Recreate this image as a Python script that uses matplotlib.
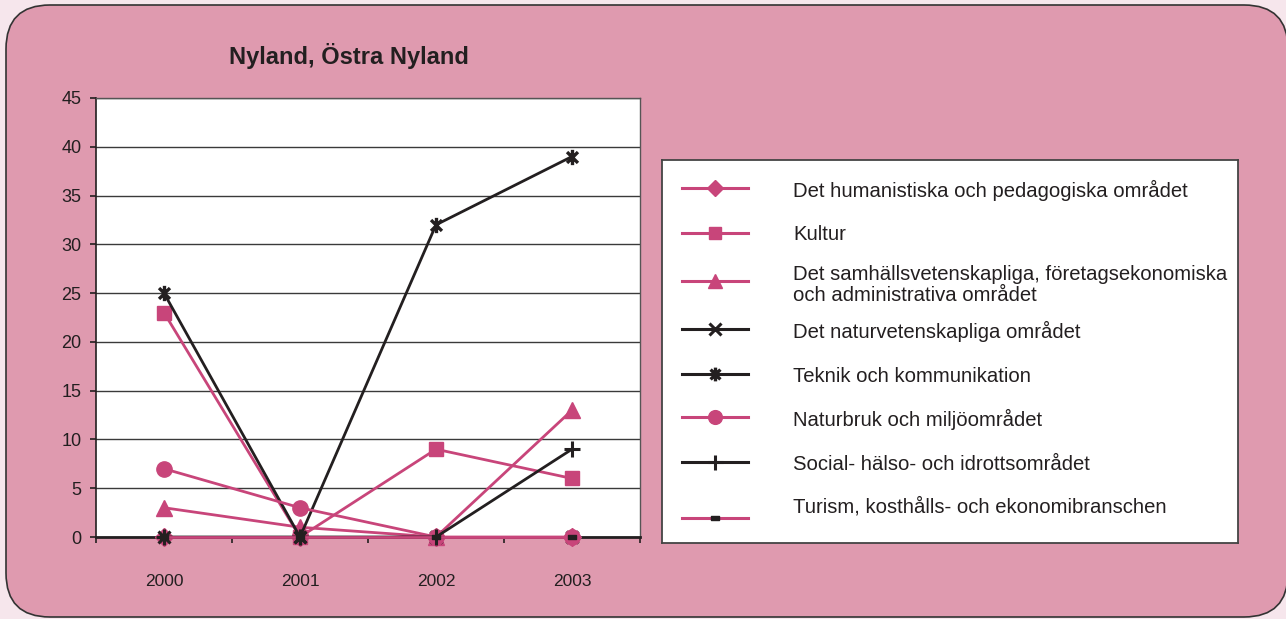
import numpy as np
import matplotlib
matplotlib.use('Agg')
import matplotlib.pyplot as plt
from matplotlib.path import Path
from matplotlib.patches import FancyBboxPatch

plt.rcParams['font.family'] = ['Liberation Sans', 'DejaVu Sans']

# data
years = ['2000', '2001', '2002', '2003']
labels = ['Det humanistiska och pedagogiska området',
          'Kultur',
          'Det samhällsvetenskapliga, företagsekonomiska\noch administrativa området',
          'Det naturvetenskapliga området',
          'Teknik och kommunikation',
          'Naturbruk och miljöområdet',
          'Social- hälso- och idrottsområdet',
          'Turism, kosthålls- och ekonomibranschen']
humanistiska = [0, 0, 0, 0]
kultur = [23, 0, 9, 6]
samhalls = [3, 1, 0, 13]
naturvet = [0, 0, 0, 0]
teknik = [25, 0, 32, 39]
naturbruk = [7, 3, 0, 0]
social = [0, 0, 0, 9]
turism = [0, 0, 0, 0]
values = [humanistiska, kultur, samhalls, naturvet, teknik, naturbruk, social, turism]

PINK = '#c8457a'
DARK = '#231f20'
BOX = '#df9aaf'
OUTER = '#f6e6ec'

M, L = Path.MOVETO, Path.LINETO
star = Path([(-1, -1), (1, 1), (-1, 1), (1, -1), (0, -1.4), (0, 1.4)], [M, L, M, L, M, L])
dash = Path([(-1, -0.45), (1, -0.45), (1, 0.45), (-1, 0.45), (-1, -0.45)],
            [M, L, L, L, Path.CLOSEPOLY])

# (line colour, marker, marker colour, marker size, marker edge width)
styles = [(PINK, 'D', PINK, 9, 1),
          (PINK, 's', PINK, 10, 1),
          (PINK, '^', PINK, 11, 1),
          (DARK, 'x', DARK, 9, 2.2),
          (DARK, star, DARK, 11, 2.4),
          (PINK, 'o', PINK, 11, 1),
          (DARK, '+', DARK, 12, 2.2),
          (PINK, dash, DARK, 6, 1)]

W, H = 1286, 619
fig = plt.figure(figsize=(W / 100, H / 100), dpi=100)
fig.patch.set_facecolor(OUTER)

# rounded pink panel behind everything
bg = fig.add_axes([0, 0, 1, 1], zorder=0)
bg.set_xlim(0, W)
bg.set_ylim(H, 0)
bg.axis('off')
bg.add_patch(FancyBboxPatch((6 + 44, 5 + 44), 1282 - 88, 612 - 88,
                            boxstyle='round,pad=44', fc=BOX, ec='#333333', lw=1.2))

fig.text(349 / W, 1 - 56 / H, 'Nyland, Östra Nyland', ha='center', va='center',
         fontsize=17, fontweight='bold', color=DARK)

# main plot
ax = fig.add_axes([96 / W, 1 - 537 / H, 544 / W, 439 / H], zorder=1)
ax.set_facecolor('white')
x = np.arange(len(years)) + 0.5
for vals, (lc, mk, mc, ms, mew) in zip(values, styles):
    ax.plot(x, vals, color=lc, lw=2, marker=mk, markersize=ms, markerfacecolor=mc,
            markeredgecolor=mc, markeredgewidth=mew, clip_on=False, zorder=3)

ax.set_xlim(0, 4)
ax.set_ylim(0, 45)
ax.set_yticks(np.arange(0, 46, 5))
ax.set_xticks(x)
ax.set_xticklabels(years)
ax.set_xticks(np.arange(0, 5), minor=True)
ax.tick_params(axis='x', which='major', length=0, pad=27, labelsize=12.5, colors=DARK)
ax.tick_params(axis='x', which='minor', length=4, width=1.2, direction='out', color=DARK)
ax.tick_params(axis='y', length=4.5, width=1.2, direction='out', pad=6, labelsize=13,
               colors=DARK)
ax.yaxis.grid(True, color='#3a3a3a', lw=1)
ax.set_axisbelow(True)
for s in ['top', 'right']:
    ax.spines[s].set_color('#555555')
    ax.spines[s].set_linewidth(1)
ax.spines['left'].set_color(DARK)
ax.spines['left'].set_linewidth(1.2)
ax.spines['bottom'].set_color(DARK)
ax.spines['bottom'].set_linewidth(2)

# legend box
leg = fig.add_axes([662 / W, 1 - 543 / H, 576 / W, 383 / H], zorder=1)
leg.set_xlim(662, 1238)
leg.set_ylim(543, 160)
leg.set_xticks([])
leg.set_yticks([])
leg.set_facecolor('white')
for s in leg.spines.values():
    s.set_color('#444444')
    s.set_linewidth(1.3)
handle_y = [188, 233, 281, 329, 374, 417, 462, 518]
text_y = [190, 235, 285, 331, 376, 419, 464, 507]
for lab, (lc, mk, mc, ms, mew), hy, ty in zip(labels, styles, handle_y, text_y):
    leg.plot([682, 748], [hy, hy], color=lc, lw=2.2)
    leg.plot([715], [hy], marker=mk, markersize=ms * 0.9, markerfacecolor=mc,
             markeredgecolor=mc, markeredgewidth=mew, color=lc)
    leg.text(793, ty, lab, ha='left', va='center', fontsize=14.6, color=DARK,
             linespacing=1.15)

fig.savefig('out.png', dpi=100, facecolor=fig.get_facecolor())
